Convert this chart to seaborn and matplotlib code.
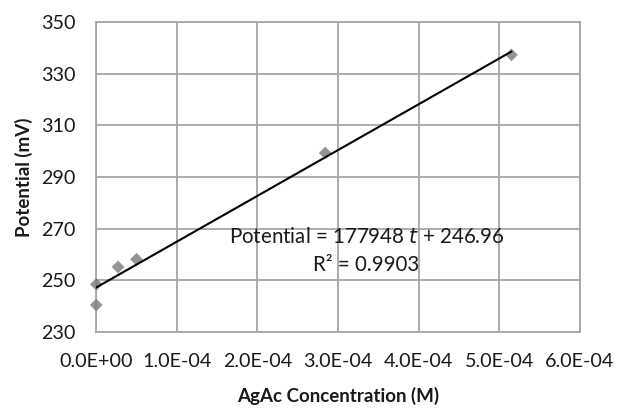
import matplotlib
matplotlib.use("Agg")
import matplotlib.pyplot as plt
import seaborn as sns
import numpy as np
import pandas as pd

conc = [0.0, 0.0, 2.7e-5, 5.0e-5, 2.84e-4, 5.15e-4]
potential = [240.5, 248.5, 255.2, 258.2, 299.3, 337.3]
x_ticks = [0, 1e-4, 2e-4, 3e-4, 4e-4, 5e-4, 6e-4]
x_tick_labels = ["0.0E+00", "1.0E-04", "2.0E-04", "3.0E-04", "4.0E-04", "5.0E-04", "6.0E-04"]
y_ticks = [230, 250, 270, 290, 310, 330, 350]

sns.set_theme(style="white")
plt.rcParams["font.family"] = ["Lato", "DejaVu Sans"]

df = pd.DataFrame({"conc": conc, "potential": potential})

fig = plt.figure(figsize=(6.17, 4.08), dpi=100)
ax = fig.add_axes([0.156, 0.186, 0.784, 0.76])

sns.regplot(data=df, x="conc", y="potential", ax=ax, ci=None, truncate=True, marker="D",
            scatter_kws=dict(s=42, color="#7a7a7a", edgecolor="none", zorder=3, clip_on=False),
            line_kws=dict(color="black", lw=1.5, zorder=4))

ax.set_xlim(0, 6e-4)
ax.set_ylim(230, 350)
ax.set_xticks(x_ticks)
ax.set_xticklabels(x_tick_labels)
ax.set_yticks(y_ticks)
ax.tick_params(axis="both", labelsize=14.2, length=0, colors="#1a1a1a")
ax.tick_params(axis="y", pad=15)
ax.tick_params(axis="x", pad=15)
ax.grid(True, color="#a6a6a6", lw=1.3)
for s in ax.spines.values():
    s.set_color("#a6a6a6")
    s.set_linewidth(1.3)
ax.set_axisbelow(True)

ax.set_xlabel("AgAc Concentration (M)", fontsize=13.5, fontweight="bold", labelpad=12, color="#1a1a1a")
ax.set_ylabel("Potential (mV)", fontsize=13.5, fontweight="bold", labelpad=6, color="#1a1a1a")

ax.text(3.35e-4, 266.8, "Potential = 177948 $\\it{t}$ + 246.96", ha="center", va="center",
        fontsize=14.8, color="#1a1a1a")
ax.text(3.35e-4, 256.0, "R² = 0.9903", ha="center", va="center", fontsize=14.8, color="#1a1a1a")

fig.savefig("out.png", dpi=100)
